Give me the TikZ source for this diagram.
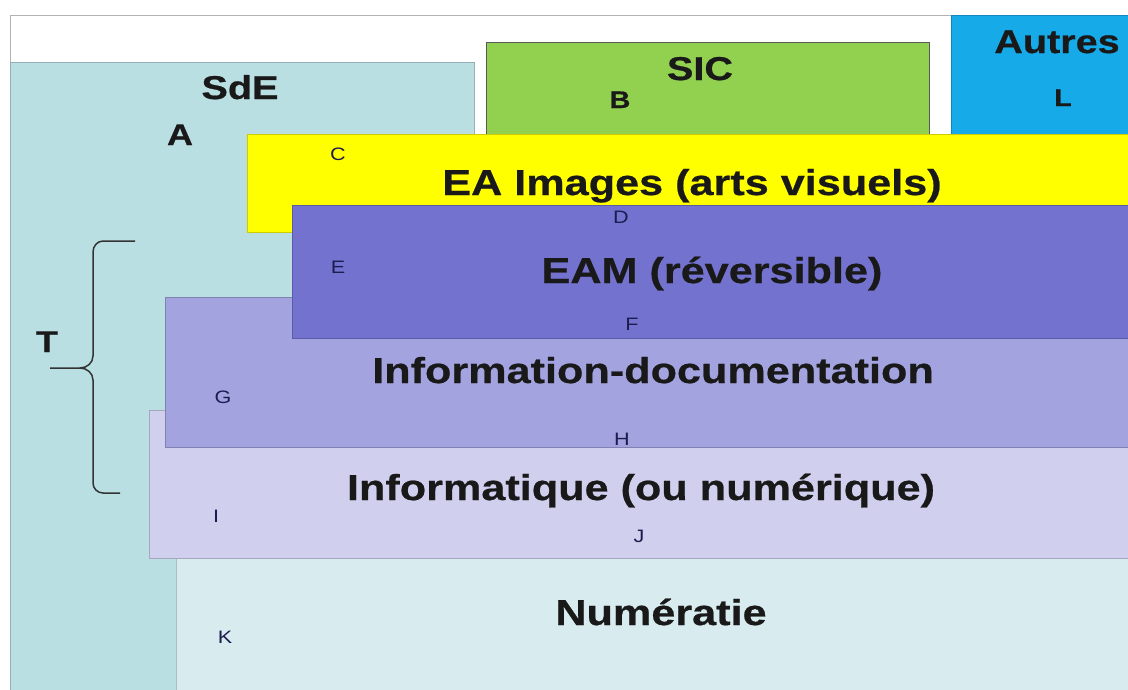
\documentclass[tikz,border=0pt]{standalone}
\usepackage{fontspec}
\setmainfont{Liberation Sans}[FakeStretch=1.2,BoldFeatures={FakeBold=0.6}]
\usetikzlibrary{positioning}

\definecolor{sdecol}{HTML}{B9DFE2}
\definecolor{siccol}{HTML}{92D050}
\definecolor{autcol}{HTML}{16AAE8}
\definecolor{eaicol}{HTML}{FFFF00}
\definecolor{eamcol}{HTML}{7373CF}
\definecolor{idcol}{HTML}{A3A3DF}
\definecolor{infcol}{HTML}{D0D0EE}
\definecolor{numcol}{HTML}{D8ECEF}
\definecolor{tagcol}{HTML}{1C1C50}

\begin{document}
\begin{tikzpicture}[x=1pt,y=-1pt,
    box/.style={fill=#1,draw=#1!80!black,line width=0.7pt},
    big/.style={anchor=base,inner sep=0pt,text=black!90,font=\bfseries\fontsize{36}{40}\selectfont},
    mid/.style={anchor=base,inner sep=0pt,text=black!90,font=\bfseries\fontsize{33}{38}\selectfont},
    letter/.style={anchor=base,inner sep=0pt,text=black!90,font=\bfseries\fontsize{#1}{#1}\selectfont},
    tag/.style={anchor=base,inner sep=0pt,text=tagcol,font=\fontsize{18}{20}\selectfont}]
    \useasboundingbox (0,0) rectangle (1128,689);
    \fill[white] (0,0) rectangle (1128,689);
    \draw[gray!60,line width=0.8pt] (10,692) -- (10,15) -- (1132,15);

    \draw[box=sdecol] (10,62) rectangle (474,695);
    \draw[box=siccol,draw=black!65] (486,42) rectangle (929,135);
    \draw[box=autcol] (951,15) rectangle (1135,135);
    \draw[box=numcol] (176,558) rectangle (1135,695);
    \draw[box=infcol] (149,410) rectangle (1135,558);
    \draw[box=idcol] (165,297) rectangle (1135,447);
    \draw[box=eaicol] (247,134) rectangle (1135,232);
    \draw[box=eamcol] (292,205) rectangle (1135,338);

    \node[mid] (sde) at (240,99) {SdE};
    \node[letter=30] (a) at (180,145) {A};
    \node[mid] (sic) at (700,80) {SIC};
    \node[letter=24] (b) at (620,108) {B};
    \node[mid] (autres) at (1057,53) {Autres};
    \node[letter=24] (l) at (1063,106) {L};

    \node[tag] (c) at (338,160) {C};
    \node[big] (eai) at (692,195) {EA Images (arts visuels)};
    \node[tag] (d) at (621,223) {D};
    \node[tag] (e) at (338,273) {E};
    \node[big] (eam) at (712,283) {EAM (réversible)};
    \node[tag] (f) at (632,330) {F};
    \node[big] (id) at (653,383) {Information-documentation};
    \node[tag] (g) at (223,403) {G};
    \node[tag] (h) at (622,445) {H};
    \node[big] (inf) at (641,500) {Informatique (ou numérique)};
    \node[tag] (i) at (216,522) {I};
    \node[tag] (j) at (639,542) {J};
    \node[big] (num) at (661,625) {Numératie};
    \node[tag] (k) at (225,643) {K};

    \node[letter=30] (t) at (47,352) {T};
    \draw[black!80,line width=1.5pt] (135,241) -- (103,241) to[out=180,in=90] (93,252) -- (93,356)
        to[out=-90,in=0] (80,368) -- (50,368);
    \draw[black!80,line width=1.5pt] (80,368) to[out=0,in=90] (93,380) -- (93,483)
        to[out=-90,in=180] (103,493) -- (120,493);
\end{tikzpicture}
\end{document}
